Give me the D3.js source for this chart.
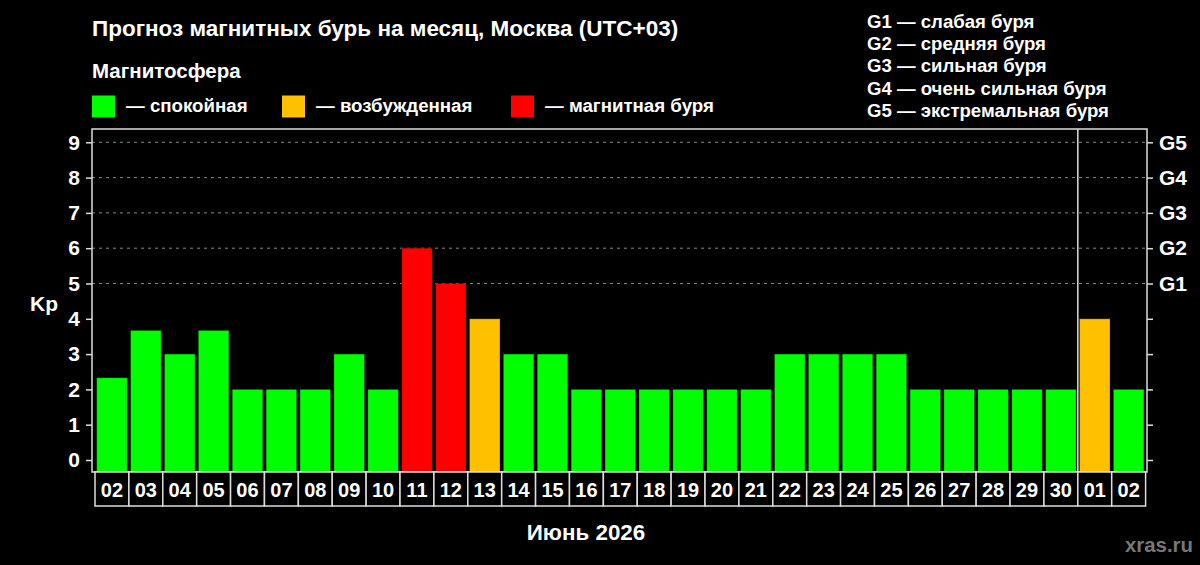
<!DOCTYPE html>
<html>
<head>
<meta charset="utf-8">
<script src="https://cdn.jsdelivr.net/npm/d3@7"></script>
<style>
  body { margin: 0; background: #000; }
  svg { display: block; font-family: "Liberation Sans", Arial, sans-serif; font-weight: bold; }
</style>
</head>
<body>
<div id="chart"></div>
<script>
// data
const days = ["02","03","04","05","06","07","08","09","10","11","12","13","14","15","16","17","18","19","20","21","22","23","24","25","26","27","28","29","30","01","02"];
const kp = [2.33,3.67,3,3.67,2,2,2,3,2,6,5,4,3,3,2,2,2,2,2,2,3,3,3,3,2,2,2,2,2,4,2];
const states = ["q","q","q","q","q","q","q","q","q","s","s","a","q","q","q","q","q","q","q","q","q","q","q","q","q","q","q","q","q","a","q"];
const kpTicks = [0,1,2,3,4,5,6,7,8,9];
const gLabels = ["G1","G2","G3","G4","G5"];
const gNames = ["слабая буря","средняя буря","сильная буря","очень сильная буря","экстремальная буря"];
const legendItems = [
    { key: "q", text: "— спокойная" },
    { key: "a", text: "— возбужденная" },
    { key: "s", text: "— магнитная буря" }
];
const colors = { q: "#00ff00", a: "#ffc000", s: "#ff0000" };

const W = 1200, H = 565;
const frame = { left: 92, right: 1147, top: 129, bottom: 472 };

const svg = d3.select("#chart").append("svg")
    .attr("width", W)
    .attr("height", H);

svg.append("rect").attr("width", W).attr("height", H).attr("fill", "#000");

// title + legends
svg.append("text")
    .attr("x", 92).attr("y", 36)
    .attr("fill", "#fff").attr("font-size", "22.5px")
    .text("Прогноз магнитных бурь на месяц, Москва (UTC+03)");

svg.append("text")
    .attr("x", 92).attr("y", 78)
    .attr("fill", "#fff").attr("font-size", "20.5px")
    .text("Магнитосфера");

const legX = [92, 282, 511];
legendItems.forEach((d, i) => {
    svg.append("rect")
        .attr("x", legX[i]).attr("y", 95.5)
        .attr("width", 23).attr("height", 22)
        .attr("fill", colors[d.key]);
    svg.append("text")
        .attr("x", legX[i] + 34).attr("y", 112)
        .attr("fill", "#fff").attr("font-size", "18.7px")
        .text(d.text);
});

gLabels.forEach((g, i) => {
    svg.append("text")
        .attr("x", 867).attr("y", 27.5 + i * 22.35)
        .attr("fill", "#fff").attr("font-size", "18.6px")
        .text(`${g} — ${gNames[i]}`);
});

// scales
const x = d3.scaleBand()
    .domain(d3.range(days.length))
    .range([95, 1145.6])
    .paddingInner(0.1)
    .paddingOuter(0.05);

const y = d3.scaleLinear()
    .domain([0, 9])
    .range([460, 142.3]);

// grid (5..9)
svg.append("g")
    .selectAll("line")
    .data(kpTicks.filter(d => d >= 5))
    .join("line")
    .attr("x1", frame.left).attr("x2", frame.right)
    .attr("y1", d => y(d)).attr("y2", d => y(d))
    .attr("stroke", "#888").attr("stroke-width", 1)
    .attr("stroke-dasharray", "3,4");

// bars
svg.append("g")
    .selectAll("rect")
    .data(kp)
    .join("rect")
    .attr("x", (d, i) => x(i))
    .attr("width", x.bandwidth())
    .attr("y", d => y(d))
    .attr("height", d => frame.bottom - y(d))
    .attr("fill", (d, i) => colors[states[i]])
    .attr("stroke", "rgba(0,0,0,0.25)")
    .attr("stroke-width", 1);

// month separator
const step = x.step();
const sep = (x(28) + x.bandwidth() + x(29)) / 2;
svg.append("line")
    .attr("x1", sep).attr("x2", sep)
    .attr("y1", frame.top).attr("y2", frame.bottom)
    .attr("stroke", "#ddd").attr("stroke-width", 1.5);

// frame
svg.append("rect")
    .attr("x", frame.left).attr("y", frame.top)
    .attr("width", frame.right - frame.left)
    .attr("height", frame.bottom - frame.top)
    .attr("fill", "none")
    .attr("stroke", "#ddd").attr("stroke-width", 1.5);

// left axis
const yLeft = svg.append("g")
    .attr("transform", `translate(${frame.left},0)`)
    .call(d3.axisLeft(y).tickValues(kpTicks).tickSize(6).tickPadding(6).tickFormat(d3.format("d")));
yLeft.select(".domain").remove();
yLeft.selectAll("line").attr("stroke", "#ddd").attr("stroke-width", 1.5);
yLeft.selectAll("text").attr("fill", "#fff").attr("font-size", "21px")
    .attr("font-family", "Liberation Sans, Arial, sans-serif").attr("font-weight", "bold");

// right axis
const yRight = svg.append("g")
    .attr("transform", `translate(${frame.right},0)`)
    .call(d3.axisRight(y).tickValues(kpTicks).tickSize(6).tickPadding(6)
        .tickFormat(d => d >= 5 ? gLabels[d - 5] : ""));
yRight.select(".domain").remove();
yRight.selectAll("line").attr("stroke", "#ddd").attr("stroke-width", 1.5);
yRight.selectAll("text").attr("fill", "#fff").attr("font-size", "21px")
    .attr("font-family", "Liberation Sans, Arial, sans-serif").attr("font-weight", "bold");

svg.append("text")
    .attr("x", 30).attr("y", 311)
    .attr("fill", "#fff").attr("font-size", "21px")
    .text("Kp");

// day boxes
const box = svg.append("g")
    .selectAll("g")
    .data(days)
    .join("g")
    .attr("transform", (d, i) => `translate(${x(i) - (step - x.bandwidth()) / 2},${frame.bottom})`);

box.append("rect")
    .attr("width", step).attr("height", 34)
    .attr("fill", "#000")
    .attr("stroke", "#ddd").attr("stroke-width", 1.5);

box.append("text")
    .attr("x", step / 2).attr("y", 24.5)
    .attr("text-anchor", "middle")
    .attr("fill", "#fff").attr("font-size", "20px")
    .text(d => d);

svg.append("text")
    .attr("x", 586).attr("y", 540)
    .attr("text-anchor", "middle")
    .attr("fill", "#fff").attr("font-size", "22.4px")
    .text("Июнь 2026");

svg.append("text")
    .attr("x", 1193).attr("y", 552)
    .attr("text-anchor", "end")
    .attr("fill", "#777").attr("font-size", "20.4px")
    .text("xras.ru");
</script>
</body>
</html>
